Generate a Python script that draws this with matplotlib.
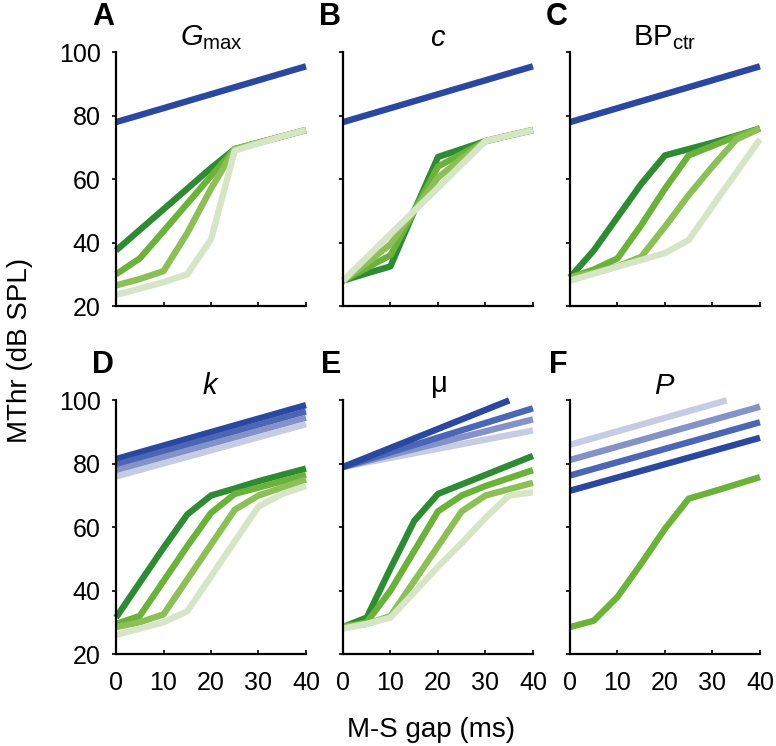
import matplotlib
matplotlib.use("Agg")
from matplotlib import pyplot as plt

plt.rcParams['font.family'] = ['Liberation Sans', 'DejaVu Sans']
plt.rcParams['mathtext.fontset'] = 'custom'
plt.rcParams['mathtext.rm'] = 'Liberation Sans'
plt.rcParams['mathtext.it'] = 'Liberation Sans:italic'

# gap values (ms)
gap = [0, 5, 10, 15, 20, 25, 30, 35, 40]

# colours
greens = ['#2e8b34', '#6ab23a', '#8cbf55', '#d6e5c6']
blues = ['#2a48a0', '#4a66b5', '#8592c8', '#c6cce4']

# A: Gmax
a_blue = [78, 80.2, 82.4, 84.6, 86.8, 89, 91.2, 93.4, 95.6]
a_green = [
    [37.5, 44, 50.5, 57, 63.5, 69.5, 71.5, 73.5, 75.5],
    [30, 35, 43.6, 52.3, 61, 69.5, 71.5, 73.5, 75.5],
    [26.5, 28.5, 31, 43, 57, 69.5, 71.5, 73.5, 75.5],
    [23.5, 25.5, 27.5, 30, 41, 69, 71.3, 73.5, 75.5],
]

# B: c
b_blue = a_blue
b_green = [
    [28, 30.3, 32.5, 50, 67, 69.5, 72, 73.8, 75.5],
    [28, 32, 36, 50, 64, 68, 72, 73.8, 75.5],
    [28, 33.5, 39.5, 50, 60.5, 66.5, 72, 73.8, 75.5],
    [28, 35.3, 42.7, 50, 57.3, 64.7, 72, 73.8, 75.5],
]

# C: BPctr
c_blue = a_blue
c_green = [
    [29, 37.5, 48, 58.5, 67.5, 69.5, 71.5, 73.7, 76],
    [29, 31.5, 35, 45.5, 57, 67.5, 70.5, 73.5, 76],
    [29, 30.5, 32.5, 35.5, 45, 55, 64, 72.5, 76],
    [28, 30.2, 32.4, 34.5, 36.7, 40.8, 51.5, 62, 72.6],
]

# D: k
d_blue = [
    [81.5, 98.5],
    [79.7, 96.5],
    [77.9, 94.5],
    [76, 92.5],
]
d_blue_gap = [0, 40]
d_green = [
    [31.5, 42.5, 53.5, 64, 70, 72.2, 74.5, 76.5, 78.5],
    [29.5, 32, 43, 54, 64.5, 70.5, 72.5, 74.5, 76.5],
    [28.5, 30, 32.5, 43.5, 54.5, 65.5, 70, 72.5, 75],
    [26, 28, 30, 33.5, 44.5, 55.5, 66.5, 70.5, 73],
]

# E: mu
e_blue_gap = [[0, 35], [0, 40], [0, 40], [0, 40]]
e_blue = [
    [79, 100],
    [79, 97.5],
    [79, 94],
    [79, 90.5],
]
e_green = [
    [28.5, 31.5, 47, 62, 70.5, 73.5, 76.5, 79.5, 82.5],
    [28.5, 30, 40, 52.5, 65, 70, 73, 75.5, 78],
    [28.5, 29.5, 32, 43, 54, 65, 70, 72, 74],
    [28, 29.5, 31.5, 39.5, 47.5, 55, 63, 70, 71],
]

# F: P
f_blue_gap = [[0, 40], [0, 40], [0, 40], [0, 33]]
f_blue = [
    [71.5, 88.2],
    [76.3, 93.1],
    [81.2, 98],
    [86, 100],
]
f_green = [28.5, 30.5, 38, 48.5, 59.5, 69, 71.2, 73.5, 75.8]

lw = 4.6

fig = plt.figure(figsize=(7.76, 7.46), dpi=100)
lefts = [0.1495, 0.442, 0.7345]
bottoms = [0.5898, 0.1233]
w, h = 0.2448, 0.3400

titles = [r'$G_{\rm max}$', r'$c$', r'$\mathrm{BP}_{\rm ctr}$', r'$k$', r'$\mathrm{\mu}$', r'$P$']
letters = ['A', 'B', 'C', 'D', 'E', 'F']

axes = []
for r in range(2):
    for c in range(3):
        ax = fig.add_axes([lefts[c], bottoms[r], w, h])
        axes.append(ax)

def plot(ax, x, y, col):
    ax.plot(x, y, color=col, lw=lw, solid_capstyle='butt', solid_joinstyle='round', clip_on=False)

# top row
for ax, blue, grn in zip(axes[:3], [a_blue, b_blue, c_blue], [a_green, b_green, c_green]):
    plot(ax, gap, blue, blues[0])
    for i in range(4):
        plot(ax, gap, grn[i], greens[i])

# D
for i in range(4):
    plot(axes[3], d_blue_gap, d_blue[i], blues[i])
for i in range(4):
    plot(axes[3], gap, d_green[i], greens[i])

# E
for i in range(3, -1, -1):
    plot(axes[4], e_blue_gap[i], e_blue[i], blues[i])
for i in range(4):
    plot(axes[4], gap, e_green[i], greens[i])

# F
for i in range(4):
    plot(axes[5], f_blue_gap[i], f_blue[i], blues[i])
plot(axes[5], gap, f_green, greens[1])

for k, ax in enumerate(axes):
    ax.set_xlim(0, 40)
    ax.set_ylim(20, 100)
    ax.set_xticks([0, 10, 20, 30, 40])
    ax.set_yticks([20, 40, 60, 80, 100])
    for s in ['top', 'right']:
        ax.spines[s].set_visible(False)
    for s in ['left', 'bottom']:
        ax.spines[s].set_linewidth(1.6)
    ax.tick_params(axis='x', direction='in', length=3, width=1.2, labelsize=18, pad=12)
    ax.tick_params(axis='y', direction='out', length=3, width=1.2, labelsize=18, pad=8)
    if k < 3:
        ax.set_xticklabels([])
    if k % 3 != 0:
        ax.set_yticklabels([])
    ax.set_title(titles[k], fontsize=21, pad=4)
    ax.text(-0.01, 1.2, letters[k], transform=ax.transAxes, ha='right', va='top',
            fontsize=22, fontweight='bold')

fig.text(0.026, 0.53, 'MThr (dB SPL)', rotation=90, ha='center', va='center', fontsize=20)
fig.text(0.556, 0.022, 'M-S gap (ms)', ha='center', va='center', fontsize=20)

fig.savefig('out.png', dpi=100)
